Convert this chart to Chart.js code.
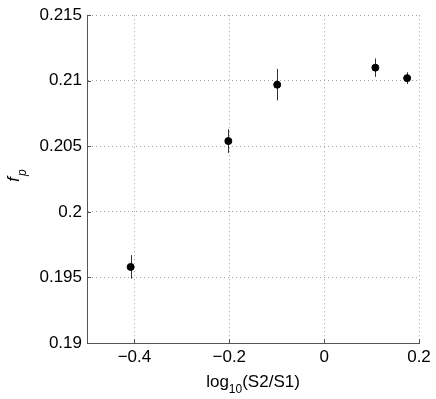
<!DOCTYPE html>
<html>
<head>
<meta charset="utf-8">
<script src="https://cdn.jsdelivr.net/npm/chart.js@4/dist/chart.umd.min.js"></script>
<style>
  html, body { margin: 0; padding: 0; background: #fff; }
  #wrap { width: 436px; height: 399px; }
</style>
</head>
<body>
<div id="wrap"><canvas id="chart" width="436" height="399"></canvas></div>
<script>
// values
const xValues = [-0.408, -0.202, -0.099, 0.108, 0.175];
const yValues = [0.1958, 0.2054, 0.2097, 0.2110, 0.2102];
const yErrors = [0.0009, 0.0009, 0.0012, 0.0007, 0.00045];

const xTicks = [-0.4, -0.2, 0, 0.2];
const xTickLabels = ['\u22120.4', '\u22120.2', '0', '0.2'];
const yTicks = [0.19, 0.195, 0.2, 0.205, 0.21, 0.215];
const yTickLabels = ['0.19', '0.195', '0.2', '0.205', '0.21', '0.215'];

const FONT = "'Liberation Sans', Arial, sans-serif";

const errorBars = {
    id: 'errorBars',
    beforeDatasetsDraw(chart) {
        const { ctx, scales: { x, y } } = chart;
        ctx.save();
        ctx.strokeStyle = '#333';
        ctx.lineWidth = 1;
        xValues.forEach((xv, i) => {
            const px = Math.round(x.getPixelForValue(xv)) + 0.5;
            ctx.beginPath();
            ctx.moveTo(px, y.getPixelForValue(yValues[i] - yErrors[i]));
            ctx.lineTo(px, y.getPixelForValue(yValues[i] + yErrors[i]));
            ctx.stroke();
        });
        ctx.restore();
    }
};

const axisDecor = {
    id: 'axisDecor',
    afterDraw(chart) {
        const { ctx, chartArea: a, scales: { x, y } } = chart;
        ctx.save();
        // inward tick marks
        ctx.strokeStyle = '#555';
        ctx.lineWidth = 1;
        xTicks.forEach(v => {
            const px = Math.round(x.getPixelForValue(v)) + 0.5;
            ctx.beginPath();
            ctx.moveTo(px, a.bottom);
            ctx.lineTo(px, a.bottom - 4);
            ctx.stroke();
        });
        yTicks.forEach(v => {
            const py = Math.round(y.getPixelForValue(v)) + 0.5;
            ctx.beginPath();
            ctx.moveTo(a.left, py);
            ctx.lineTo(a.left + 4, py);
            ctx.stroke();
        });

        // x title: log10(S2/S1) with subscript
        ctx.fillStyle = '#000';
        ctx.textBaseline = 'alphabetic';
        ctx.textAlign = 'left';
        const big = '17px ' + FONT, small = '12px ' + FONT;
        ctx.font = big;
        const w1 = ctx.measureText('log').width;
        const w3 = ctx.measureText('(S2/S1)').width;
        ctx.font = small;
        const w2 = ctx.measureText('10').width;
        let sx = (a.left + a.right) / 2 - (w1 + w2 + w3) / 2;
        const by = 387;
        ctx.font = big;
        ctx.fillText('log', sx, by);
        ctx.font = small;
        ctx.fillText('10', sx + w1, by + 6);
        ctx.font = big;
        ctx.fillText('(S2/S1)', sx + w1 + w2, by);

        // y title: f_p rotated
        ctx.translate(19, 176);
        ctx.rotate(-Math.PI / 2);
        ctx.font = 'italic 17px ' + FONT;
        const fw = ctx.measureText('f').width;
        ctx.font = 'italic 12px ' + FONT;
        const pw = ctx.measureText('p').width;
        const ox = -(fw + pw) / 2;
        ctx.font = 'italic 17px ' + FONT;
        ctx.fillText('f', ox, 0);
        ctx.font = 'italic 12px ' + FONT;
        ctx.fillText('p', ox + fw + 1, 7);
        ctx.restore();
    }
};

chartSetup();

function chartSetup() {
    const ctx = document.getElementById('chart').getContext('2d');
    new Chart(ctx, {
        type: 'scatter',
        data: {
            datasets: [{
                data: xValues.map((xv, i) => ({ x: xv, y: yValues[i] })),
                backgroundColor: '#000',
                borderColor: '#000',
                pointRadius: 3.5,
                pointHoverRadius: 3.5,
            }],
        },
        options: {
            responsive: false,
            animation: false,
            events: [],
            layout: { padding: { top: 15, right: 17, left: 0, bottom: 0 } },
            plugins: { legend: { display: false }, tooltip: { enabled: false } },
            scales: {
                x: {
                    type: 'linear',
                    min: -0.5,
                    max: 0.2,
                    afterBuildTicks: s => { s.ticks = xTicks.map(v => ({ value: v })); },
                    afterFit: s => { s.height = 56; },
                    ticks: {
                        callback: (v, i) => xTickLabels[i],
                        color: '#000',
                        font: { family: FONT, size: 17 },
                        padding: 4,
                        maxRotation: 0,
                    },
                    grid: { color: '#a0a0a0', drawTicks: false, lineWidth: 1 },
                    border: { display: true, color: '#555', width: 1, dash: [1, 3] },
                },
                y: {
                    type: 'linear',
                    min: 0.19,
                    max: 0.215,
                    afterBuildTicks: s => { s.ticks = yTicks.map(v => ({ value: v })); },
                    afterFit: s => { s.width = 87; },
                    ticks: {
                        callback: (v, i) => yTickLabels[i],
                        color: '#000',
                        font: { family: FONT, size: 17 },
                        padding: 5,
                    },
                    grid: { color: '#a0a0a0', drawTicks: false, lineWidth: 1 },
                    border: { display: true, color: '#555', width: 1, dash: [1, 3] },
                },
            },
        },
        plugins: [errorBars, axisDecor],
    });
}
</script>
</body>
</html>
